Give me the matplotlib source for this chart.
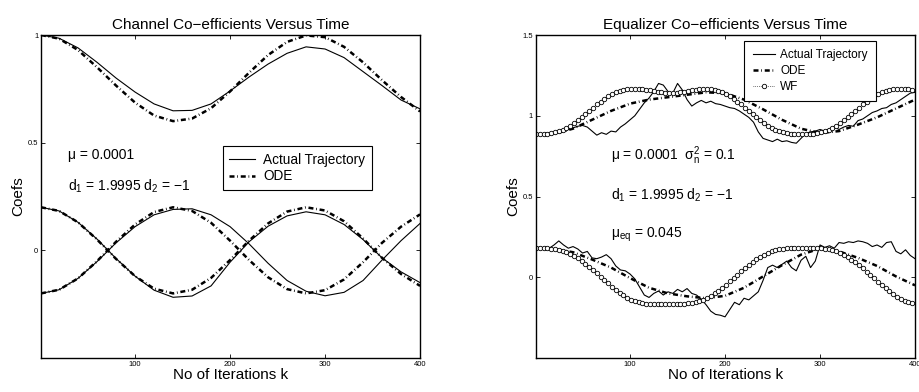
import numpy as np
import matplotlib
matplotlib.use('Agg')
import matplotlib.pyplot as plt

plt.rcParams['font.family'] = ['Liberation Sans', 'DejaVu Sans']
plt.rcParams['mathtext.fontset'] = 'custom'
plt.rcParams['mathtext.rm'] = 'Liberation Sans'
plt.rcParams['mathtext.it'] = 'Liberation Sans:italic'

# ---- channel plot (left), values read every 20 iterations ----
k_ch = [1, 20, 40, 60, 80, 100, 120, 140, 160, 180, 200,
        220, 240, 260, 280, 300, 320, 340, 360, 380, 400]

ch0_actual = [1.000, 0.985, 0.940, 0.873, 0.800, 0.735, 0.680, 0.648, 0.650, 0.680, 0.740,
              0.805, 0.865, 0.915, 0.945, 0.935, 0.895, 0.830, 0.765, 0.698, 0.657]
ch0_ode = [1.000, 0.983, 0.930, 0.850, 0.765, 0.686, 0.626, 0.600, 0.612, 0.660, 0.738,
           0.825, 0.907, 0.968, 0.998, 0.990, 0.945, 0.873, 0.790, 0.712, 0.645]
ch1_actual = [0.200, 0.183, 0.130, 0.052, -0.038, -0.120, -0.185, -0.218, -0.212, -0.165, -0.055,
              0.040, 0.112, 0.160, 0.179, 0.165, 0.120, 0.050, -0.035, -0.100, -0.150]
ch1_ode = [0.200, 0.183, 0.130, 0.050, -0.040, -0.120, -0.178, -0.200, -0.183, -0.128, -0.045,
           0.045, 0.125, 0.180, 0.200, 0.185, 0.135, 0.055, -0.035, -0.110, -0.165]
ch2_actual = [-0.200, -0.183, -0.130, -0.052, 0.035, 0.110, 0.165, 0.190, 0.193, 0.165, 0.110,
              0.030, -0.060, -0.140, -0.190, -0.211, -0.195, -0.140, -0.045, 0.045, 0.125]
ch2_ode = [-0.200, -0.183, -0.130, -0.050, 0.040, 0.120, 0.178, 0.200, 0.183, 0.128, 0.045,
           -0.045, -0.125, -0.180, -0.200, -0.185, -0.135, -0.055, 0.035, 0.110, 0.167]

# ---- equalizer plot (right) ----
k_eq_ode = k_ch
eq0_ode = [0.885, 0.888, 0.920, 0.975, 1.030, 1.075, 1.100, 1.115, 1.130, 1.145, 1.140,
           1.100, 1.040, 0.975, 0.920, 0.893, 0.905, 0.945, 0.990, 1.045, 1.100]
eq1_ode = [0.182, 0.175, 0.155, 0.110, 0.060, -0.005, -0.065, -0.100, -0.118, -0.130, -0.115,
           -0.065, 0.005, 0.075, 0.140, 0.178, 0.160, 0.120, 0.070, 0.005, -0.050]

# actual (noisy) trajectory, read every 5 iterations
k_eq_act = [1] + list(range(5, 401, 5))
eq0_actual = [0.885, 0.885, 0.887, 0.890, 0.893, 0.900, 0.910, 0.915, 0.925, 0.935, 0.940,
              0.930, 0.905, 0.880, 0.895, 0.885, 0.905, 0.900, 0.930, 0.950, 0.975,
              1.000, 1.040, 1.080, 1.110, 1.150, 1.200, 1.190, 1.150, 1.140, 1.200,
              1.160, 1.100, 1.060, 1.080, 1.095, 1.080, 1.090, 1.075, 1.070, 1.060,
              1.050, 1.045, 1.030, 1.010, 0.990, 0.960, 0.900, 0.860, 0.850, 0.840,
              0.855, 0.840, 0.845, 0.835, 0.830, 0.860, 0.890, 0.900, 0.905, 0.915,
              0.905, 0.920, 0.930, 0.915, 0.930, 0.940, 0.935, 0.970, 0.980, 1.000,
              1.020, 1.030, 1.045, 1.050, 1.070, 1.080, 1.100, 1.120, 1.140, 1.145]
eq1_actual = [0.182, 0.182, 0.181, 0.180, 0.200, 0.225, 0.200, 0.180, 0.190, 0.175, 0.150,
              0.160, 0.120, 0.115, 0.125, 0.140, 0.115, 0.070, 0.045, 0.040, 0.020,
              -0.010, -0.060, -0.110, -0.125, -0.100, -0.085, -0.110, -0.090, -0.100, -0.075,
              -0.090, -0.070, -0.100, -0.110, -0.135, -0.170, -0.210, -0.230, -0.235, -0.245,
              -0.200, -0.155, -0.170, -0.130, -0.140, -0.115, -0.090, -0.020, 0.060, 0.075,
              0.060, 0.080, 0.100, 0.060, 0.040, 0.105, 0.130, 0.060, 0.100, 0.200,
              0.185, 0.195, 0.180, 0.215, 0.210, 0.220, 0.215, 0.225, 0.220, 0.210,
              0.190, 0.200, 0.185, 0.215, 0.220, 0.160, 0.145, 0.170, 0.135, 0.115]

# Wiener filter solution, read every 4 iterations
k_wf = list(range(1, 400, 4))
eq0_wf = [0.885, 0.885, 0.886, 0.888, 0.892, 0.898, 0.905, 0.914, 0.925, 0.939,
          0.955, 0.972, 0.990, 1.010, 1.030, 1.050, 1.070, 1.088, 1.105, 1.121,
          1.135, 1.146, 1.155, 1.160, 1.164, 1.166, 1.166, 1.165, 1.163, 1.160,
          1.157, 1.153, 1.150, 1.147, 1.144, 1.143, 1.142, 1.144, 1.146, 1.150,
          1.154, 1.158, 1.162, 1.165, 1.166, 1.166, 1.164, 1.160, 1.155, 1.147,
          1.135, 1.121, 1.105, 1.088, 1.070, 1.050, 1.030, 1.010, 0.990, 0.972,
          0.955, 0.939, 0.925, 0.914, 0.905, 0.898, 0.892, 0.888, 0.886, 0.885,
          0.885, 0.885, 0.886, 0.888, 0.892, 0.898, 0.905, 0.914, 0.925, 0.939,
          0.955, 0.972, 0.990, 1.010, 1.030, 1.050, 1.070, 1.088, 1.105, 1.121,
          1.135, 1.146, 1.155, 1.160, 1.164, 1.166, 1.166, 1.165, 1.163, 1.160]
eq1_wf = [0.182, 0.182, 0.181, 0.180, 0.178, 0.174, 0.170, 0.164, 0.156, 0.146,
          0.133, 0.119, 0.103, 0.085, 0.066, 0.046, 0.025, 0.004, -0.017, -0.038,
          -0.058, -0.077, -0.095, -0.111, -0.126, -0.138, -0.147, -0.155, -0.160, -0.163,
          -0.165, -0.166, -0.166, -0.166, -0.166, -0.166, -0.166, -0.166, -0.165, -0.164,
          -0.162, -0.159, -0.155, -0.148, -0.140, -0.129, -0.115, -0.100, -0.083, -0.065,
          -0.045, -0.025, -0.004, 0.017, 0.038, 0.058, 0.077, 0.095, 0.112, 0.127,
          0.140, 0.151, 0.160, 0.167, 0.173, 0.177, 0.179, 0.180, 0.181, 0.182,
          0.182, 0.182, 0.182, 0.182, 0.181, 0.180, 0.178, 0.174, 0.168, 0.160,
          0.150, 0.138, 0.124, 0.109, 0.092, 0.074, 0.055, 0.035, 0.014, -0.007,
          -0.028, -0.048, -0.068, -0.087, -0.105, -0.121, -0.135, -0.146, -0.155, -0.161]

# line styles
act_style = dict(color='black', lw=0.8, ls='-')
ode_style = dict(color='black', lw=1.8, ls=(0, (2.0, 1.1, 0.3, 1.1)))
wf_style = dict(color='black', lw=0.5, ls=':', marker='o', ms=3.2,
                mfc='white', mec='black', mew=0.6)


def style_axes(ax, yticks, ylabels):
    ax.set_xlim(1, 400)
    ax.set_xticks([100, 200, 300, 400])
    ax.set_xticklabels(['100', '200', '300', '400'])
    ax.set_yticks(yticks)
    ax.set_yticklabels(ylabels)
    ax.tick_params(direction='in', length=3, width=0.6, labelsize=5.5,
                   top=True, right=True, pad=2)
    for s in ax.spines.values():
        s.set_linewidth(1.0)
    ax.set_xlabel('No of Iterations k', fontsize=11, labelpad=0)
    ax.set_ylabel('Coefs', fontsize=11, labelpad=2)


fig = plt.figure(figsize=(9.2, 3.92), dpi=100)

# left: channel coefficients
ax1 = fig.add_axes([0.0446, 0.0867, 0.412, 0.824])
ax1.plot(k_ch, ch0_actual, label='Actual Trajectory', **act_style)
ax1.plot(k_ch, ch0_ode, label='ODE', **ode_style)
ax1.plot(k_ch, ch1_actual, **act_style)
ax1.plot(k_ch, ch1_ode, **ode_style)
ax1.plot(k_ch, ch2_actual, **act_style)
ax1.plot(k_ch, ch2_ode, **ode_style)
ax1.set_ylim(-0.5, 1)
style_axes(ax1, [0, 0.5, 1], ['0', '0.5', '1'])
ax1.set_title('Channel Co\u2212efficients Versus Time', fontsize=11, pad=4)
ax1.text(29, 0.444, '\u03bc = 0.0001', fontsize=10, va='center')
ax1.text(29, 0.296, 'd$_1$ = 1.9995 d$_2$ = \u22121', fontsize=10, va='center')
leg1 = ax1.legend(loc='upper left', bbox_to_anchor=(0.479, 0.657), borderaxespad=0,
                  fontsize=9.8, fancybox=False, edgecolor='black', framealpha=1,
                  handlelength=1.9, handletextpad=0.6, borderpad=0.5, labelspacing=0.2)
leg1.get_frame().set_linewidth(0.8)

# right: equalizer coefficients
ax2 = fig.add_axes([0.5826, 0.0867, 0.412, 0.824])
ax2.plot(k_eq_act, eq0_actual, label='Actual Trajectory', **act_style)
ax2.plot(k_eq_ode, eq0_ode, label='ODE', **ode_style)
ax2.plot(k_wf, eq0_wf, label='WF', **wf_style)
ax2.plot(k_eq_act, eq1_actual, **act_style)
ax2.plot(k_eq_ode, eq1_ode, **ode_style)
ax2.plot(k_wf, eq1_wf, **wf_style)
ax2.set_ylim(-0.5, 1.5)
style_axes(ax2, [0, 0.5, 1, 1.5], ['0', '0.5', '1', '1.5'])
ax2.set_title('Equalizer Co\u2212efficients Versus Time', fontsize=11, pad=4)
ax2.text(80, 0.753, '\u03bc = 0.0001  \u03c3$_\\mathrm{n}^2$ = 0.1', fontsize=10, va='center')
ax2.text(80, 0.506, 'd$_1$ = 1.9995 d$_2$ = \u22121', fontsize=10, va='center')
ax2.text(80, 0.26, '\u03bc$_\\mathrm{eq}$ = 0.045', fontsize=10, va='center')
leg2 = ax2.legend(loc='upper left', bbox_to_anchor=(0.55, 0.982), borderaxespad=0,
                  fontsize=8.5, fancybox=False, edgecolor='black', framealpha=1,
                  handlelength=1.9, handletextpad=0.42, borderpad=0.7, labelspacing=0.32)
leg2.get_frame().set_linewidth(0.8)

plt.savefig('out.png', dpi=100)
